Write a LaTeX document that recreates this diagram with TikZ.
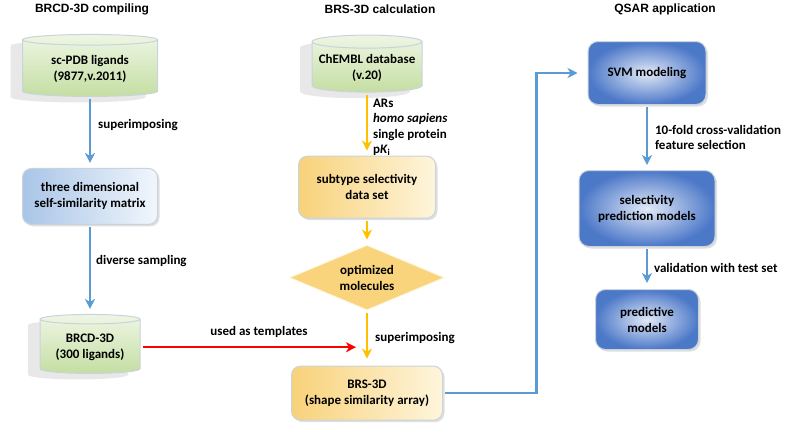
\documentclass[tikz,border=0pt]{standalone}
\usepackage{fontspec}
\setmainfont{Carlito}
\newfontfamily\headfont{Liberation Sans}
\usetikzlibrary{positioning, shapes.geometric, arrows.meta, shadows}
\definecolor{flowBlue}{HTML}{5B9BD5}
\definecolor{flowYellow}{HTML}{FFC000}
\definecolor{flowRed}{HTML}{FF0000}
\definecolor{dbTop}{HTML}{EEF6E4}
\definecolor{dbBottom}{HTML}{C4DEA2}
\definecolor{boxEdge}{HTML}{C9D3DC}
\definecolor{paleBlueLeft}{HTML}{A9C5E7}
\definecolor{paleBlueRight}{HTML}{F1F6FC}
\definecolor{goldLeft}{HTML}{F8D27A}
\definecolor{goldRight}{HTML}{FEF5DC}
\definecolor{goldFill}{HTML}{F9D47C}
\definecolor{deepBlueInner}{HTML}{E2E9F7}
\definecolor{deepBlueOuter}{HTML}{4C78C8}

\begin{document}
\begin{tikzpicture}[
							x = 1pt,
							y = -1pt,
							heading/.style = {
								font = \headfont\bfseries\fontsize{12}{14}\selectfont,
							},
							flowText/.style = {
								font = \bfseries\fontsize{13}{16}\selectfont,
								align = center,
							},
							flowLabel/.style = {
								font = \bfseries\fontsize{13}{15.5}\selectfont,
								align = left,
								inner sep = 1pt,
							},
							database/.style = {
								flowText,
								cylinder,
								shape border rotate = 90,
								aspect = 0.13,
								draw = boxEdge,
								line width = 1pt,
								top color = dbTop,
								bottom color = dbBottom,
								minimum width = 135pt,
								minimum height = 62pt,
								inner sep = 2pt,
								drop shadow = {shadow xshift = -12pt, shadow yshift = -6pt, opacity = 0.18},
							},
							lightBox/.style = {
								flowText,
								draw = boxEdge,
								line width = 1pt,
								rounded corners = 9pt,
								left color = paleBlueLeft,
								right color = paleBlueRight,
								minimum width = 135pt,
								minimum height = 56pt,
								drop shadow = {shadow xshift = 2pt, shadow yshift = -2pt, opacity = 0.25},
							},
							yellowBox/.style = {
								flowText,
								draw = boxEdge,
								line width = 1pt,
								rounded corners = 9pt,
								left color = goldLeft,
								right color = goldRight,
								drop shadow = {shadow xshift = 2pt, shadow yshift = -2pt, opacity = 0.25},
							},
							decision/.style = {
								flowText,
								diamond,
								aspect = 2.4,
								draw = goldRight,
								line width = 1pt,
								fill = goldFill,
								minimum width = 155pt,
								minimum height = 65pt,
								inner sep = 0pt,
							},
							darkBox/.style = {
								flowText,
								draw = boxEdge,
								line width = 1pt,
								rounded corners = 10pt,
								inner color = deepBlueInner,
								outer color = deepBlueOuter,
								drop shadow = {shadow xshift = 2pt, shadow yshift = -2pt, opacity = 0.25},
							},
							blueArrow/.style = {
								draw = flowBlue,
								line width = 2.2pt,
								-{Stealth[length = 10pt, width = 10pt, inset = 3pt]},
								shorten > = 5pt,
								shorten < = 2pt,
							},
							yellowArrow/.style = {
								blueArrow,
								draw = flowYellow,
							},
							redArrow/.style = {
								blueArrow,
								draw = flowRed,
							}
						]
					\useasboundingbox (0, 0) rectangle (787, 431);

					\node [heading] (titleLeft) at (92, 9) {BRCD-3D compiling};
					\node [heading] (titleMiddle) at (380, 9) {BRS-3D calculation};
					\node [heading] (titleRight) at (665, 9) {QSAR application};

					\node [database] (scPdb) at (90, 69) {sc-PDB ligands\\(9877,v.2011)};
					\node [lightBox, below = 71pt of scPdb] (threeDim) {three dimensional\\self-similarity matrix};
					\node [database, minimum width = 100pt, minimum height = 59pt, below = 89pt of threeDim] (brcd) {BRCD-3D\\(300 ligands)};

					\node [database, minimum width = 110pt, minimum height = 57pt] (chembl) at (367, 68) {ChEMBL database\\(v.20)};
					\node [yellowBox, minimum width = 137pt, minimum height = 62pt, below = 63pt of chembl] (subtype) {subtype selectivity\\data set};
					\node [decision, below = 26pt of subtype] (optimized) {optimized\\molecules};
					\node [yellowBox, minimum width = 151pt, minimum height = 54pt, below = 55pt of optimized] (brs) {BRS-3D\\(shape similarity array)};

					\node [darkBox, minimum width = 118pt, minimum height = 63pt] (svm) at (647, 73) {SVM modeling};
					\node [darkBox, minimum width = 136pt, minimum height = 76pt, below = 65pt of svm] (selectivity) {selectivity\\prediction models};
					\node [darkBox, minimum width = 103pt, minimum height = 60pt, below = 42pt of selectivity] (predictive) {predictive\\models};

					\coordinate (templateEnd) at (356, 0);

					\draw [blueArrow] (scPdb) to node [flowLabel, right = 6pt, pos = 0.4] {superimposing} (threeDim);
					\draw [blueArrow] (threeDim) to node [flowLabel, right = 4pt, pos = 0.4] {diverse sampling} (brcd);
					\draw [redArrow, shorten > = 0pt] (brcd.east) to node [flowLabel, above = 8pt, pos = 0.55] {used as templates} (brcd.east -| templateEnd);

					\draw [yellowArrow] (chembl) to node [flowLabel, right = 4pt, pos = 0.55] {ARs\\\textit{homo sapiens}\\single protein\\p\textit{K}\textsubscript{i}} (subtype);
					\draw [yellowArrow] (subtype) to (optimized);
					\draw [yellowArrow, shorten > = 7pt] (optimized) to node [flowLabel, right = 6pt] {superimposing} (brs);

					\draw [blueArrow, shorten > = 10pt] (brs.east) -| ([xshift = -51pt] svm.west) -- (svm.west);
					\draw [blueArrow] (svm) to node [flowLabel, right = 6pt] {10-fold cross-validation\\feature selection} (selectivity);
					\draw [blueArrow, shorten > = 6pt] (selectivity) to node [flowLabel, right = 5pt] {validation with test set} (predictive);
				\end{tikzpicture}
\end{document}
